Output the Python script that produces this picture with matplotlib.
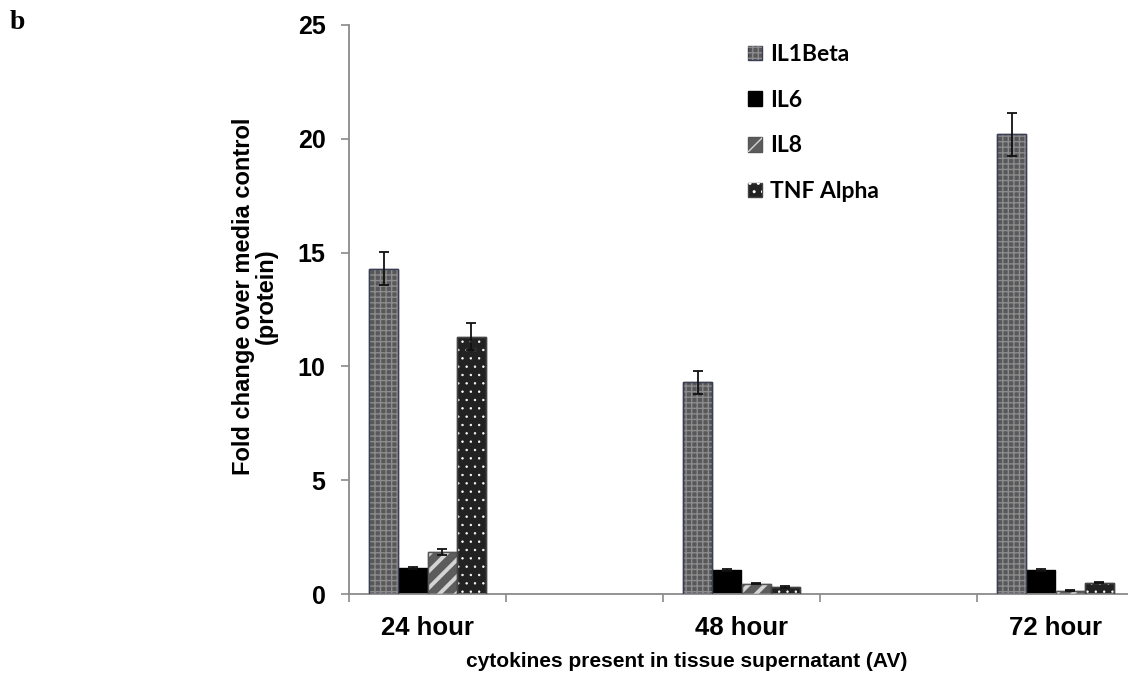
import matplotlib
matplotlib.use("Agg")
import matplotlib.pyplot as plt
import numpy as np

categories = ["24 hour", "48 hour", "72 hour"]
series = ["IL1Beta", "IL6", "IL8", "TNF Alpha"]
il1beta = [14.3, 9.3, 20.2]
il6 = [1.15, 1.05, 1.05]
il8 = [1.85, 0.45, 0.15]
tnf = [11.3, 0.3, 0.5]
il1beta_err = [0.72, 0.5, 0.95]
il6_err = [0.05, 0.03, 0.05]
il8_err = [0.12, 0.03, 0.03]
tnf_err = [0.6, 0.05, 0.03]

values = [il1beta, il6, il8, tnf]
errors = [il1beta_err, il6_err, il8_err, tnf_err]

styles = [
    dict(face="#58585a", hatch="+++", hcolor="#8c8c8c", edge="#3b3f55", hlw=1.0),
    dict(face="#000000", hatch=None, hcolor="#000000", edge="#000000", hlw=1.0),
    dict(face="#5c5c5c", hatch="//", hcolor="#d4d4d4", edge="#555555", hlw=2.8),
    dict(face="#222222", hatch="..", hcolor="#ffffff", edge="#444444", hlw=0.5),
]

fig = plt.figure(figsize=(11.28, 6.79), dpi=100)
W, H = 1128, 679
ax = fig.add_axes([349 / W, 1 - 594 / H, (1134 - 349) / W, (594 - 25) / H])

xpos = np.arange(len(categories)) * 2.0
w = 0.185
handles = []
for i, (vals, errs, st) in enumerate(zip(values, errors, styles)):
    x = xpos + (i - 1.5) * w
    base = ax.bar(x, vals, width=w, color=st["face"], edgecolor=st["edge"],
                  linewidth=1.0, zorder=2)
    h = [base[0]]
    if st["hatch"]:
        with plt.rc_context({"hatch.linewidth": st["hlw"]}):
            hb = ax.bar(x, vals, width=w, color="none", edgecolor=st["hcolor"],
                        hatch=st["hatch"], linewidth=0, zorder=3)
        for p in hb:
            if hasattr(p, "set_hatch_linewidth"):
                p.set_hatch_linewidth(st["hlw"])
        h.append(hb[0])
        ax.bar(x, vals, width=w, color="none", edgecolor=st["edge"],
               linewidth=1.0, zorder=4)
    ax.errorbar(x, vals, yerr=errs, fmt="none", ecolor="#111111",
                elinewidth=1.3, capsize=3.5, capthick=1.3, zorder=5)
    handles.append(tuple(h))

ax.set_xlim(-0.5, 4.5)
ax.set_ylim(0, 25)
ax.set_yticks([0, 5, 10, 15, 20, 25])
ax.set_xticks(xpos)
ax.set_xticklabels(categories)
ax.set_xticks(np.arange(-0.5, 5.0, 1.0), minor=True)

for s in ["top", "right"]:
    ax.spines[s].set_visible(False)
for s in ["left", "bottom"]:
    ax.spines[s].set_color("#8a8a8a")
    ax.spines[s].set_linewidth(1.3)

ax.tick_params(axis="y", length=6, width=1.2, color="#8a8a8a", pad=11,
               labelsize=18)
ax.tick_params(axis="x", which="major", length=0, pad=16, labelsize=18.5)
ax.tick_params(axis="x", which="minor", length=6, width=1.2, color="#8a8a8a")
for lab in ax.get_xticklabels() + ax.get_yticklabels():
    lab.set_fontfamily("Liberation Sans")
    lab.set_fontweight("bold")

ax.set_ylabel("Fold change over media control\n(protein)", fontsize=17,
              fontweight="bold", fontfamily="Liberation Sans", linespacing=1.0)
ax.yaxis.set_label_coords((278 - 349) / 785, (594 - 296) / 569)
ax.set_xlabel("cytokines present in tissue supernatant (AV)", fontsize=15,
              fontweight="bold", fontfamily="Liberation Sans")
ax.xaxis.set_label_coords((687 - 349) / 785, -(667 - 594) / 569)
ax.xaxis.label.set_va("baseline")

leg = ax.legend(handles, series, loc="upper left",
                bbox_to_anchor=(748 / W, 1 - 44 / H), bbox_transform=fig.transFigure,
                frameon=False, borderpad=0, borderaxespad=0,
                handlelength=0.6, handleheight=0.6, handletextpad=0.35,
                labelspacing=1.08,
                prop=dict(family="Lato", weight="bold", size=16.5))

fig.text(10 / W, 1 - 10 / H, "b", fontsize=20, fontweight="bold",
         fontfamily="Liberation Serif", va="top", ha="left")

fig.savefig("out.png", dpi=100)
